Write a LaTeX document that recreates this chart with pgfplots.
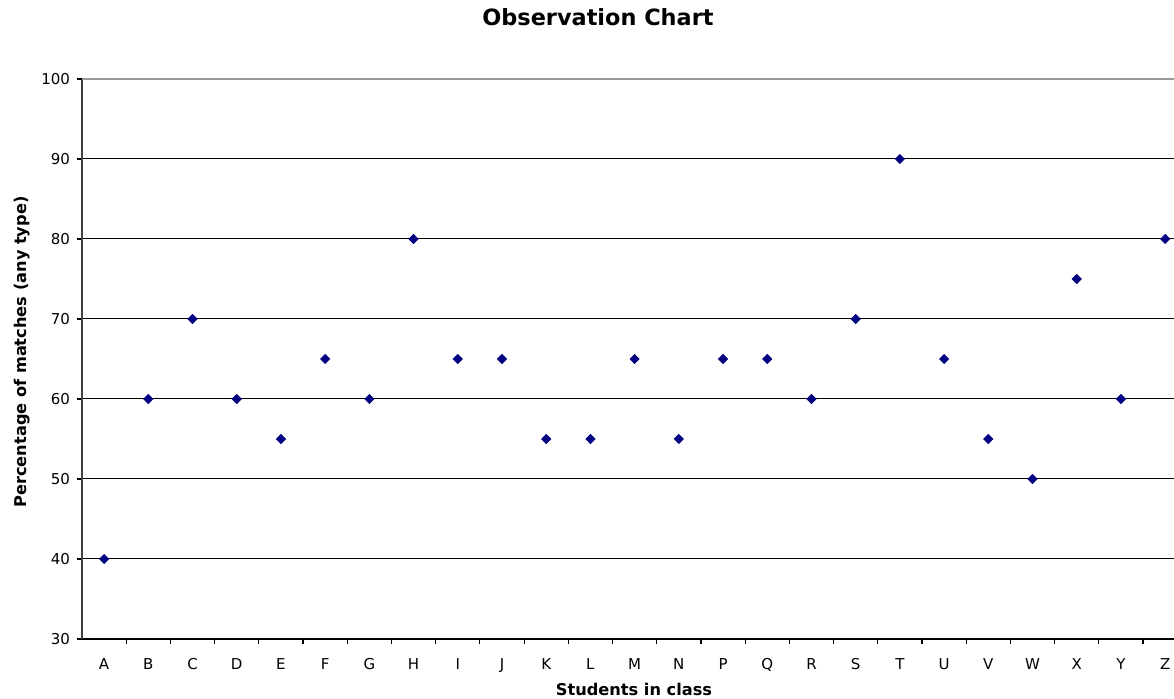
\documentclass[border=0pt]{standalone}
\usepackage{fontspec}
\setmainfont{DejaVu Sans}
\usepackage{pgfplots}
\pgfplotsset{compat=1.18}
\definecolor{navyblue}{RGB}{0,0,128}
\definecolor{leftaxis}{RGB}{64,64,64}

\begin{document}
\begin{tikzpicture}
  \begin{axis}[
    at={(0pt,0pt)}, anchor=south west,
    width=546pt, height=280pt,
    scale only axis,
    xmin=-0.5, xmax=24.2,
    ymin=30, ymax=100,
    axis x line*=bottom,
    axis y line*=left,
    x axis line style={-, black, line width=0.8pt},
    y axis line style={-, leftaxis, line width=0.8pt},
    xtick={0,...,24},
    xticklabels={A,B,C,D,E,F,G,H,I,J,K,L,M,N,P,Q,R,S,T,U,V,W,X,Y,Z},
    minor xtick={0.5,1.5,...,23.5},
    major x tick style={draw=none},
    minor x tick style={black, line width=0.6pt},
    minor tick length=2.5pt,
    ytick={30,40,...,90},
    extra y ticks={100},
    extra y tick style={grid style={gray!80, line width=1pt}},
    ymajorgrids,
    grid style={black, line width=0.5pt},
    major y tick style={black, line width=0.6pt},
    major tick length=2.5pt,
    tick align=outside,
    /pgf/number format/assume math mode=true,
    ticklabel style={font=\fontsize{7.5}{9}\selectfont},
    xticklabel style={yshift=-3.5pt, text height=5.5pt, text depth=0pt},
    title={Observation Chart},
    title style={font=\fontsize{11.2}{13}\selectfont\bfseries,
      at={(axis description cs:0.4725,1.089)}, anchor=center, yshift=0pt},
    xlabel={Students in class},
    xlabel style={font=\fontsize{8.1}{10}\selectfont\bfseries,
      at={(axis description cs:0.5055,-0.091)}, anchor=center},
    ylabel={Percentage of matches (any type)},
    ylabel style={font=\fontsize{8.1}{10}\selectfont\bfseries,
      at={(axis description cs:-0.055,0.5125)}, anchor=center},
    clip=false,
  ]
  \addplot[only marks, mark=square*, mark size=1.6pt,
    mark options={rotate=45, fill=navyblue, draw=navyblue}]
    coordinates {
      (0,40) (1,60) (2,70) (3,60) (4,55) (5,65) (6,60) (7,80)
      (8,65) (9,65) (10,55) (11,55) (12,65) (13,55) (14,65) (15,65)
      (16,60) (17,70) (18,90) (19,65) (20,55) (21,50) (22,75) (23,60)
      (24,80)
    };
  \end{axis}
  \pgfresetboundingbox
  \useasboundingbox (-41pt,-30pt) rectangle (546pt,319.5pt);
\end{tikzpicture}
\end{document}
